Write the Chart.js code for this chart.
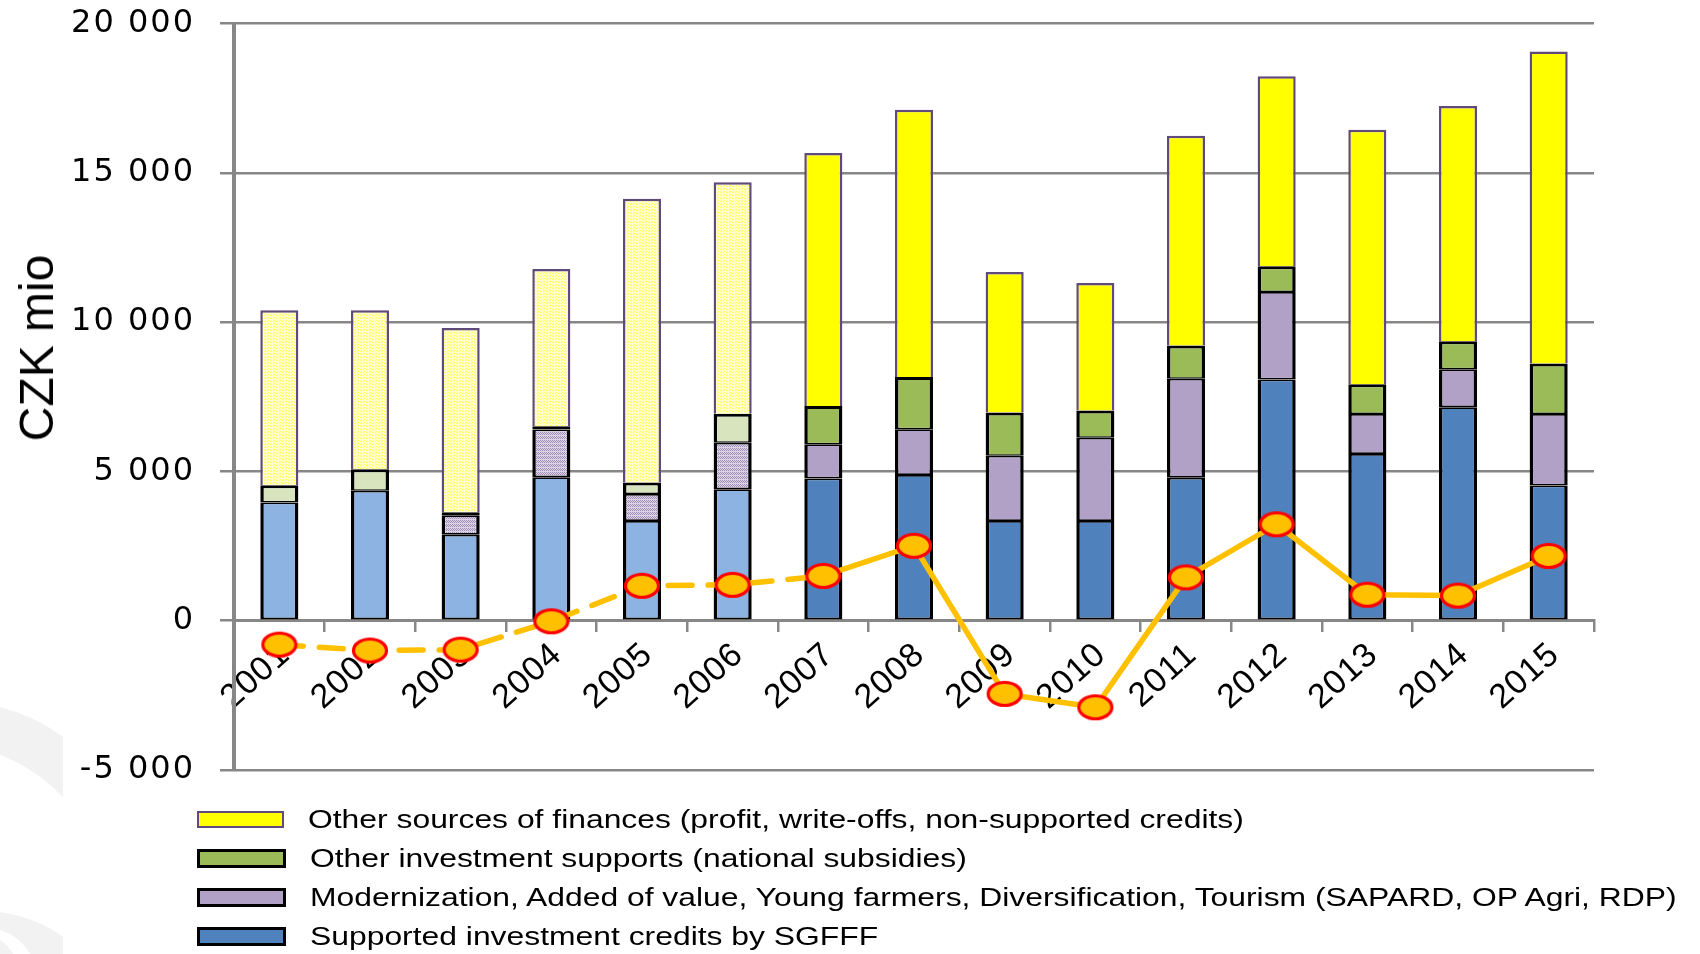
<!DOCTYPE html>
<html><head><meta charset="utf-8">
<script src="https://cdn.jsdelivr.net/npm/chart.js@4.4.1/dist/chart.umd.min.js"></script>
<style>
html,body{margin:0;padding:0;background:#fff;overflow:hidden}
#wrap{position:relative;width:1700px;height:954px}
#deco{position:absolute;left:0;top:0}
#c{position:absolute;left:0;top:0}
#ytitle{position:absolute;left:37px;top:348px;transform:translate(-50%,-50%) rotate(-90deg);font-family:"Liberation Sans",Arial,sans-serif;font-size:48px;line-height:1;white-space:nowrap;color:#000}
#legend{position:absolute;left:197px;top:800px}
.li{position:absolute;left:0;height:39px;display:flex;align-items:center;white-space:nowrap}
.sw{width:83px;height:13px;box-sizing:content-box}
.lt{margin-left:24px;font-family:"Liberation Sans",Arial,sans-serif;font-size:26px;transform:scaleX(1.225);transform-origin:left center;color:#000}
</style></head>
<body>
<div id="wrap">
<svg id="deco" width="1700" height="954">
<path d="M0,707 Q35,716 63,737 L63,797 Q35,768 0,755 Z" fill="#F2F2F2"/>
<path d="M0,912 Q38,918 63,937 L63,954 L30,954 Q20,936 0,930 Z" fill="#F2F2F2"/>
<path d="M0,940 Q8,945 13,954 L0,954 Z" fill="#F2F2F2"/>
</svg>
<canvas id="c" width="1700" height="954"></canvas>
<div id="ytitle">CZK mio</div>
<div id="legend"></div>
</div>
<script>
const years = ['2001','2002','2003','2004','2005','2006','2007','2008','2009','2010','2011','2012','2013','2014','2015'];
const sgfffCredits  = [3960, 4350, 2880, 4800, 3340, 4400, 4760, 4880, 3340, 3340, 4790, 8080, 5580, 7150, 4530];
const modernization = [null, null, 650, 1600, 900, 1560, 1150, 1530, 2180, 2790, 3310, 2930, 1340, 1270, 2390];
const otherSupports = [580, 720, 100, 110, 390, 970, 1280, 1750, 1450, 910, 1120, 860, 1000, 940, 1690];
const otherSources  = [5860, 5330, 6170, 5270, 9500, 7750, 8470, 8950, 4710, 4270, 7020, 6360, 8520, 7880, 10450];
const balanceLine   = [-800, -1000, -970, -20, 1170, 1200, 1500, 2510, -2450, -2900, 1450, 3230, 870, 840, 2170];
const yTickLabels   = ['-5 000', '0', '5 000', '10 000', '15 000', '20 000'];
const seriesNames = [
  'Supported investment credits by SGFFF',
  'Modernization, Added of value, Young farmers, Diversification, Tourism (SAPARD, OP Agri, RDP)',
  'Other investment supports (national subsidies)',
  'Other sources of finances (profit, write-offs, non-supported credits)'
];

const canvas = document.getElementById('c');
const ctx = canvas.getContext('2d');

function makePattern(size, bg, dotColor, dots) {
  const pc = document.createElement('canvas');
  pc.width = size; pc.height = size;
  const g = pc.getContext('2d');
  g.fillStyle = bg; g.fillRect(0, 0, size, size);
  g.fillStyle = dotColor;
  dots.forEach(d => g.fillRect(d[0], d[1], 1, 1));
  return ctx.createPattern(pc, 'repeat');
}
const yellowPat = makePattern(3, '#FFFFC8', '#FFFF50', [[0,0],[1,2]]);
const modPat = makePattern(4, '#DCD4E6', '#9F8FB8', [[0,0],[2,0],[1,1],[3,1],[0,2],[2,2]]);

function perYear(early, late) { return years.map((_, i) => i < 6 ? early : late); }

const pt = document.createElement('canvas');
pt.width = 40; pt.height = 30;
(function(){
  const p = pt.getContext('2d');
  p.beginPath(); p.ellipse(20, 15, 16.5, 11.5, 0, 0, Math.PI * 2);
  p.fillStyle = '#FFC000'; p.fill();
  p.lineWidth = 3.2; p.strokeStyle = '#FF0000'; p.stroke();
})();

function spaced(scale, spacing) {
  scale.drawLabels = function (area) {
    const c = this.ctx;
    const old = c.letterSpacing;
    c.letterSpacing = spacing;
    Object.getPrototypeOf(this).drawLabels.call(this, area);
    c.letterSpacing = old || '0px';
  };
}

const barCommon = { type: 'bar', stack: 'bars', order: 1, categoryPercentage: 1, barPercentage: 0.42, borderSkipped: false };

const chart = new Chart(ctx, {
  data: {
    labels: years,
    datasets: [
      Object.assign({}, barCommon, { label: seriesNames[0], data: sgfffCredits,
        backgroundColor: perYear('#8DB3E2', '#4F81BD'), borderColor: '#000',
        borderWidth: { top: 1.75, bottom: 2, left: 3.5, right: 3.5 }, legendFill: '#4F81BD', legendBorder: '#000' }),
      Object.assign({}, barCommon, { label: seriesNames[1], data: modernization,
        backgroundColor: perYear(modPat, '#B2A1C7'), borderColor: '#000',
        borderWidth: { top: 1.75, bottom: 1.75, left: 3.5, right: 3.5 }, legendFill: '#B2A1C7', legendBorder: '#000' }),
      Object.assign({}, barCommon, { label: seriesNames[2], data: otherSupports,
        backgroundColor: perYear('#D7E4BD', '#9BBB59'), borderColor: '#000',
        borderWidth: { top: 3, bottom: 1.5, left: 3.5, right: 3.5 }, legendFill: '#9BBB59', legendBorder: '#000' }),
      Object.assign({}, barCommon, { label: seriesNames[3], data: otherSources,
        backgroundColor: perYear(yellowPat, '#FFFF00'), borderColor: '#604A7B',
        borderWidth: { top: 2.5, bottom: 0, left: 2.5, right: 2.5 }, legendFill: '#FFFF00', legendBorder: '#604A7B' }),
      { type: 'line', stack: 'line', order: 0, label: '', data: balanceLine,
        borderColor: '#FFC000', borderWidth: 5.5, borderCapStyle: 'round', tension: 0,
        pointStyle: pt, pointRadius: 18, pointHoverRadius: 18,
        segment: { borderDash: c => c.p0DataIndex < 6 ? [24, 16] : undefined } }
    ]
  },
  options: {
    responsive: false, animation: false, devicePixelRatio: 1,
    layout: { padding: { left: 0, right: 106, top: 22, bottom: 184 } },
    plugins: { legend: { display: false }, tooltip: { enabled: false } },
    scales: {
      x: {
        stacked: true, position: { y: 0 }, offset: true,
        grid: { display: true, drawOnChartArea: false, drawTicks: true, tickLength: 10, color: '#878787', lineWidth: 2.5, offset: true },
        border: { display: true, color: '#878787', width: 3 },
        ticks: { font: { family: 'Liberation Sans', size: 34 }, color: '#000', minRotation: 42, maxRotation: 42, autoSkip: false, padding: 4, labelOffset: 6 },
        afterFit: s => { spaced(s, '1px'); }
      },
      y: {
        stacked: true, min: -5000, max: 20000,
        ticks: { stepSize: 5000, callback: (v, i) => yTickLabels[i], font: { family: 'DejaVu Sans', size: 32 }, color: '#000', padding: 25 },
        grid: { color: '#878787', lineWidth: 2.5, tickLength: 14 },
        border: { display: true, color: '#878787', width: 4 },
        afterFit: s => { s.width = 234; s.paddingTop = 18; s.paddingBottom = 18; spaced(s, '2px'); }
      }
    }
  }
});

const legendEl = document.getElementById('legend');
chart.data.datasets.filter(d => d.type === 'bar').slice().reverse().forEach((d, i) => {
  const row = document.createElement('div');
  row.className = 'li';
  row.style.top = (i * 39) + 'px';
  const sw = document.createElement('span');
  sw.className = 'sw';
  sw.style.background = d.legendFill;
  sw.style.border = (d.legendBorder === '#000' ? 3 : 2.5) + 'px solid ' + d.legendBorder;
  const tx = document.createElement('span');
  tx.className = 'lt';
  tx.textContent = d.label;
  row.appendChild(sw); row.appendChild(tx);
  legendEl.appendChild(row);
});
</script>
</body></html>
